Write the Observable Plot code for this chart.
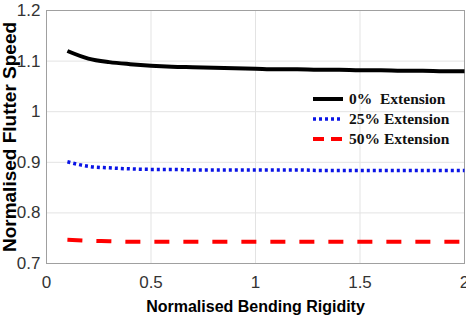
<!DOCTYPE html>
<html><head><meta charset="utf-8">
<script src="https://cdn.jsdelivr.net/npm/d3@7"></script>
<script src="https://cdn.jsdelivr.net/npm/@observablehq/plot@0.6"></script>
<style>
body{margin:0;background:#fff;}
#wrap{position:relative;width:466px;height:322px;}
#wrap svg text{font-family:"Liberation Sans",Arial,sans-serif;}
#wrap svg g[aria-label="x-axis tick label"] text,
#wrap svg g[aria-label="y-axis tick label"] text{font-family:"Liberation Sans Narrow","Liberation Sans",Arial,sans-serif;}
#wrap svg g[aria-label="x-axis label"] text,
#wrap svg g[aria-label="y-axis label"] text{font-weight:bold;fill:#000;}
#wrap svg g[aria-label="y-axis label"] text{font-size:19px;}
#legend{position:absolute;left:313px;top:89px;font-family:"Liberation Serif","DejaVu Serif",serif;font-weight:bold;font-size:15.5px;line-height:20px;color:#111;}
#legend div{display:flex;align-items:center;white-space:pre;}
#legend svg{margin-right:6px;}
</style></head>
<body><div id="wrap"></div>
<script>
const xs = [0.1,0.2,0.3,0.4,0.5,0.6,0.7,0.8,0.9,1.0,1.1,1.2,1.3,1.4,1.5,1.6,1.7,1.8,1.9,2.0];
const ext0 = [1.120,1.105,1.098,1.094,1.091,1.089,1.088,1.087,1.086,1.085,1.084,1.084,1.083,1.083,1.082,1.082,1.081,1.081,1.080,1.080];
const ext25 = [0.901,0.892,0.889,0.887,0.886,0.886,0.885,0.885,0.885,0.885,0.885,0.885,0.884,0.884,0.884,0.884,0.884,0.884,0.884,0.884];
const ext50 = [0.747,0.745,0.744,0.743,0.743,0.743,0.743,0.743,0.743,0.743,0.743,0.743,0.743,0.743,0.743,0.743,0.743,0.743,0.743,0.743];
const xTicks = [0,0.5,1,1.5,2];
const yTicks = [0.7,0.8,0.9,1,1.1,1.2];
const seriesNames = ["0%  Extension","25% Extension","50% Extension"];
const seriesColors = ["#000000","#0a14e6","#ff0000"];
const seriesDash = [null,"3,3","15,14"];
const seriesWidth = [4,3.5,4];
const seriesVals = [ext0, ext25, ext50];

const marks = [
  Plot.gridX(xTicks,{stroke:"#e3e3e3",strokeOpacity:1}),
  Plot.gridY(yTicks,{stroke:"#e3e3e3",strokeOpacity:1}),
  Plot.frame({stroke:"#a0a0a0"}),
  Plot.axisX(xTicks,{tickSize:0,tickPadding:12,fontSize:17,fill:"#333",tickFormat:d=>String(d),label:null}),
  Plot.axisY(yTicks,{tickSize:0,tickPadding:6,fontSize:17,fill:"#333",tickFormat:d=>String(d),label:null}),
  Plot.axisX({ticks:[],label:"Normalised Bending Rigidity",labelAnchor:"center",labelOffset:48,labelArrow:"none",fontSize:16}),
  Plot.axisY({ticks:[],label:"Normalised Flutter Speed",labelAnchor:"center",labelOffset:44,labelArrow:"none",fontSize:19})
];
seriesVals.forEach((vals,i)=>{
  const data = xs.map((x,j)=>({x, y: vals[j]}));
  marks.push(Plot.line(data,{x:"x",y:"y",stroke:seriesColors[i],strokeWidth:seriesWidth[i],strokeDasharray:seriesDash[i],strokeLinecap:"butt",curve:"monotone-x"}));
});

const chart = Plot.plot({
  width:466,height:322,
  marginLeft:46,marginRight:2,marginTop:10,marginBottom:59,
  x:{domain:[0,2]},
  y:{domain:[0.7,1.2]},
  marks
});
const wrap = document.getElementById("wrap");
wrap.appendChild(chart);

const leg = document.createElement("div");
leg.id="legend";
seriesNames.forEach((n,i)=>{
  const row=document.createElement("div");
  row.innerHTML=`<svg width="30" height="10"><line x1="0" x2="30" y1="5" y2="5" stroke="${seriesColors[i]}" stroke-width="${seriesWidth[i]}" ${seriesDash[i]?`stroke-dasharray="${i==2?'11,7':seriesDash[i]}"`:""}/></svg><span>${n}</span>`;
  leg.appendChild(row);
});
wrap.appendChild(leg);
</script></body></html>
